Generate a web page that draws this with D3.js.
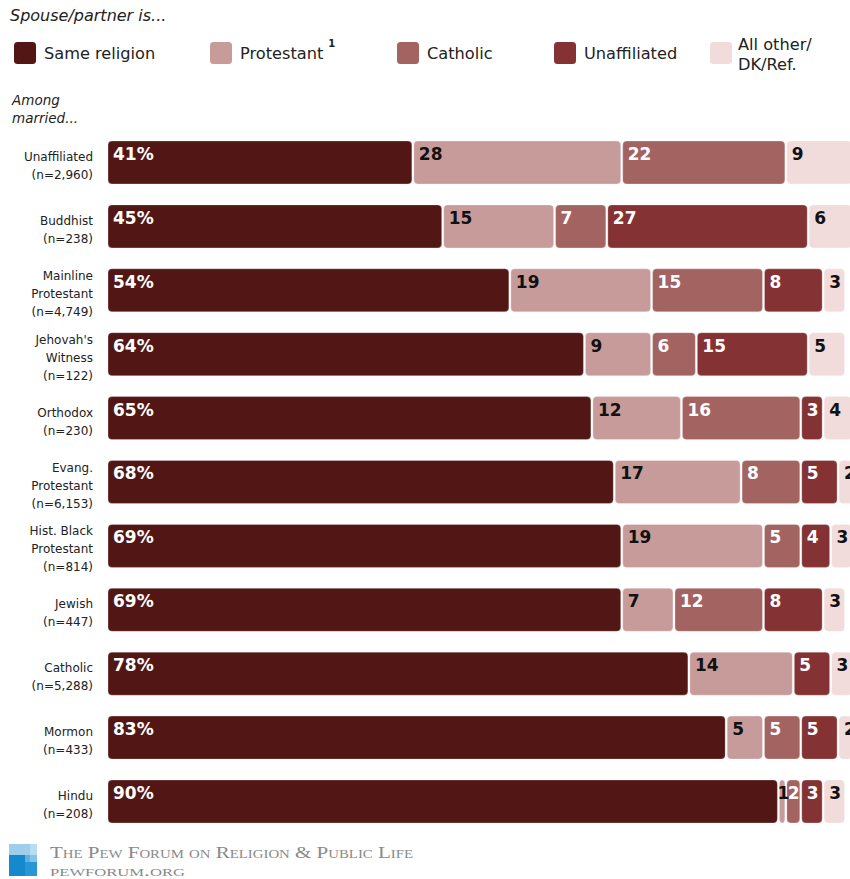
<!DOCTYPE html>
<html><head><meta charset="utf-8">
<script src="https://cdn.jsdelivr.net/npm/d3@7"></script>
<style>body{margin:0;background:#fff} svg{display:block}</style>
</head><body>
<svg id="chart" width="850" height="879"></svg>
<script>
// ---- data ----
const categories = ["Unaffiliated","Buddhist","Mainline Protestant","Jehovah's Witness","Orthodox","Evang. Protestant","Hist. Black Protestant","Jewish","Catholic","Mormon","Hindu"];
const categoryLines = [["Unaffiliated"],["Buddhist"],["Mainline","Protestant"],["Jehovah's","Witness"],["Orthodox"],["Evang.","Protestant"],["Hist. Black","Protestant"],["Jewish"],["Catholic"],["Mormon"],["Hindu"]];
const sampleSizes = ["(n=2,960)","(n=238)","(n=4,749)","(n=122)","(n=230)","(n=6,153)","(n=814)","(n=447)","(n=5,288)","(n=433)","(n=208)"];
const seriesKeys = ["same","protestant","catholic","unaffiliated","other"];
const seriesNames = ["Same religion","Protestant","Catholic","Unaffiliated","All other/\nDK/Ref."];
const sameReligion = [41,45,54,64,65,68,69,69,78,83,90];
const protestant   = [28,15,19, 9,12,17,19, 7,14, 5, 1];
const catholic     = [22, 7,15, 6,16, 8, 5,12, 0, 5, 2];
const unaffiliated = [ 0,27, 8,15, 3, 5, 4, 8, 5, 5, 3];
const allOther     = [ 9, 6, 3, 5, 4, 2, 3, 3, 3, 2, 3];

// ---- styles ----
const colors = ["#521714","#c89b9b","#a36361","#843233","#f1dbdb"];
const labelColors = ["#fff","#111","#fff","#fff","#111"];

const rows = categories.map((c,i)=>({category:c, same:sameReligion[i], protestant:protestant[i], catholic:catholic[i], unaffiliated:unaffiliated[i], other:allOther[i]}));
const stacked = d3.stack().keys(seriesKeys)(rows);

const svg = d3.select("#chart");
const font = "'DejaVu Sans', sans-serif";

const x = d3.scaleLinear().domain([0,100]).range([107, 853]);
const y = d3.scaleBand().domain(categories).range([141, 823]).paddingInner(0.327).paddingOuter(0);

// header
svg.append("text").attr("x",10).attr("y",21).attr("font-family",font).attr("font-style","italic")
  .attr("font-size",16).attr("fill","#222").text("Spouse/partner is...");

// legend
const legendX = [14,210,397,554,710];
const lg = svg.append("g");
seriesNames.forEach((name,i)=>{
  lg.append("rect").attr("x",legendX[i]).attr("y",42).attr("width",22).attr("height",22).attr("rx",3.5)
    .attr("fill",colors[i]);
  const lines = name.split("\n");
  const t = lg.append("text").attr("font-family",font).attr("font-size",16.2).attr("fill","#222");
  if(lines.length===1){
    t.attr("x",legendX[i]+30).attr("y",59).text(lines[0]);
    if(i===1){
      const w = t.node().getComputedTextLength();
      lg.append("text").attr("x",legendX[i]+30+w+5).attr("y",47).attr("font-family",font)
        .attr("font-size",10).attr("font-weight","bold").attr("fill","#222").text("1");
    }
  } else {
    lines.forEach((l,j)=>t.append("tspan").attr("x",legendX[i]+28).attr("y",50+j*20).text(l));
  }
});

// among married
const am = svg.append("text").attr("font-family",font).attr("font-style","italic").attr("font-size",13.5).attr("fill","#222");
["Among","married..."].forEach((l,j)=>am.append("tspan").attr("x",12).attr("y",105+j*18).text(l));

// category labels
const catG = svg.append("g");
categories.forEach((c,i)=>{
  const lines = categoryLines[i].concat([sampleSizes[i]]);
  const cy = y(c)+y.bandwidth()/2;
  const lh = 18;
  const first = cy - (lines.length-1)/2*lh + 7.5;
  const t = catG.append("text").attr("text-anchor","end").attr("font-family",font).attr("font-size",12).attr("fill","#222");
  lines.forEach((l,j)=>t.append("tspan").attr("x",93).attr("y",first+j*lh).text(l));
});

// bars
const barG = svg.append("g");
stacked.forEach((layer,si)=>{
  const g = barG.append("g");
  layer.forEach((d)=>{
    const v = d[1]-d[0];
    if(v<=0) return;
    const x0 = x(d[0]), x1 = x(d[1]);
    const top = y(d.data.category);
    g.append("rect").attr("x",x0+1).attr("y",top).attr("width",Math.max(0.5,x1-x0-2)).attr("height",y.bandwidth())
      .attr("rx",4).attr("fill",colors[si]).attr("stroke","rgba(255,255,255,0.35)").attr("stroke-width",0.8);
  });
});
// value labels
const labG = svg.append("g");
stacked.forEach((layer,si)=>{
  layer.forEach((d)=>{
    const v = d[1]-d[0];
    if(v<=0) return;
    const top = y(d.data.category);
    const off = v===1 ? -1 : (v===2 && si<4 ? 2 : 6);
    labG.append("text").attr("x",x(d[0])+off).attr("y",top+19).attr("font-family",font).attr("font-weight","bold")
      .attr("font-size",17).attr("fill",labelColors[si]).text(si===0? v+"%" : String(v));
  });
});

// footer logo
const logo = svg.append("g");
[[9,844,21,11,"#9fcdec"],[30,844,7,18,"#b9dcf2"],[9,855,16,21,"#1689cd"],[25,855,5,7,"#5fb0e0"],[25,862,12,14,"#2797d6"],[30,855,7,7,"#86c3ea"]]
 .forEach(r=>logo.append("rect").attr("x",r[0]).attr("y",r[1]).attr("width",r[2]).attr("height",r[3]).attr("fill",r[4]));
svg.append("text").attr("x",50).attr("y",858).attr("font-family","'Liberation Serif', serif").attr("font-size",17)
  .attr("font-variant","small-caps").attr("fill","#8a8a8a").attr("textLength",363).attr("lengthAdjust","spacingAndGlyphs")
  .text("The Pew Forum on Religion & Public Life");
svg.append("text").attr("x",50).attr("y",876).attr("font-family","'Liberation Serif', serif").attr("font-size",14)
  .attr("font-variant","small-caps").attr("fill","#8a8a8a").attr("textLength",135).attr("lengthAdjust","spacingAndGlyphs")
  .text("pewforum.org");
</script>
</body></html>
